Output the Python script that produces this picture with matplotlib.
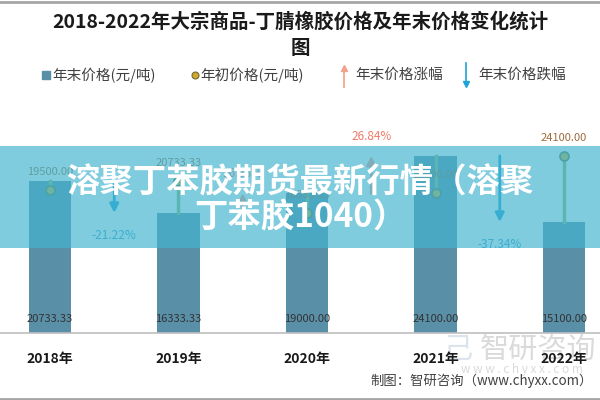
import matplotlib
matplotlib.use("Agg")
import matplotlib.pyplot as plt
from matplotlib.patches import Rectangle
from matplotlib.lines import Line2D

plt.rcParams['font.family'] = ['Noto Sans CJK SC', 'DejaVu Sans']

years = ["2018年", "2019年", "2020年", "2021年", "2022年"]
end_price = [20733.33, 16333.33, 19000.00, 24100.00, 15100.00]
start_price = [19500.00, 20733.33, 16333.33, 19000.00, 24100.00]
change_pct = ["-21.22%", "16.33%", "26.84%", "-37.34%"]

W, H = 600, 400
fig = plt.figure(figsize=(6, 4), dpi=100)
fig.patch.set_facecolor('white')

def px(x, y):
    return (x / W, 1 - y / H)

# axes: baseline at y=333px, ylim 0..30000 -> 220.5 px
ax = fig.add_axes([0, (H - 333) / H, 1, 220.5 / H])
ax.set_xlim(-0.389, 4.28)
ax.set_ylim(0, 30000)
for s in ['top', 'right', 'left']:
    ax.spines[s].set_visible(False)
ax.spines['bottom'].set_color('#BFBFBF')
ax.spines['bottom'].set_linewidth(1.2)
ax.set_yticks([])
ax.set_xticks(range(len(years)))
ax.set_xticklabels(years, fontsize=10, fontweight='bold', color='#1a1a1a')
ax.tick_params(axis='x', length=0, pad=14)
ax.patch.set_alpha(0)
ax.set_zorder(2)

bar_color = '#5A8FA8'
xs = list(range(len(years)))
ax.bar(xs, end_price, width=0.327, color=bar_color, zorder=2)

# bottom value labels (year-end)
for x, v in zip(xs, end_price):
    ax.annotate(f"{v:.2f}", xy=(x, 0), xytext=(0, 10), textcoords='offset points',
                ha='center', va='center', fontsize=8, color='#333333', zorder=5)

# year-start dots and connectors
line_c = '#8DB87A'
for x, s, e in zip(xs, start_price, end_price):
    ax.plot([x, x], [s, e], color=line_c, lw=2.5, zorder=3)
    ax.plot([x], [s], marker='o', ms=6.5, mfc='#C9B53C', mec='#5E7B5A', mew=1.2, zorder=4)
    ax.annotate(f"{s:.2f}", xy=(x, s), xytext=(0, 13), textcoords='offset points',
                ha='center', va='center', fontsize=8, color='#9C6B3E', zorder=5)

# change arrows
up_c = '#F4A08A'
down_c = '#1FA3D6'
for i, lab in enumerate(change_pct):
    prev, cur = end_price[i], end_price[i + 1]
    x = i + 0.5
    up = cur > prev
    c = up_c if up else down_c
    ax.annotate('', xy=(x, cur), xytext=(x, prev),
                arrowprops=dict(arrowstyle='-|>', color=c, lw=2, mutation_scale=13,
                                shrinkA=0, shrinkB=0), zorder=3)
    ax.annotate(lab, xy=(x, cur), xytext=(0, 14 if up else -16), textcoords='offset points',
                ha='center', va='center', fontsize=8.5,
                color='#EE7B66' if up else '#2A9FD0', zorder=5)

# title
fig.text(*px(300, 22), "2018-2022年大宗商品-丁腈橡胶价格及年末价格变化统计",
         ha='center', va='center', fontsize=14, fontweight='bold', color='#1a1a1a')
fig.text(*px(300, 48), "图", ha='center', va='center', fontsize=14,
         fontweight='bold', color='#1a1a1a')

# legend
ly = 75
fig.add_artist(Line2D([px(46, 0)[0]], [px(0, ly)[1]], marker='s', ms=5.5,
                      color=bar_color, ls='none'))
fig.text(*px(52, ly), "年末价格(元/吨)", ha='left', va='center', fontsize=10.5, color='#404040')
fig.add_artist(Line2D([px(195, 0)[0]], [px(0, ly)[1]], marker='o', ms=5,
                      mfc='#D4A82A', mec='#6B6B3A', mew=0.8, ls='none'))
fig.text(*px(200, ly), "年初价格(元/吨)", ha='left', va='center', fontsize=10.5, color='#404040')
fig.add_artist(Line2D([px(344, 0)[0]] * 2, [px(0, 87)[1], px(0, 68)[1]], color=up_c, lw=1.2))
fig.add_artist(Line2D([px(344, 0)[0]], [px(0, 68)[1]], marker='^', ms=5, color=up_c, ls='none'))
fig.text(*px(355, ly), "年末价格涨幅", ha='left', va='center', fontsize=10.5, color='#404040')
fig.add_artist(Line2D([px(466, 0)[0]] * 2, [px(0, 63)[1], px(0, 83)[1]], color=down_c, lw=1.2))
fig.add_artist(Line2D([px(466, 0)[0]], [px(0, 84)[1]], marker='v', ms=5, color=down_c, ls='none'))
fig.text(*px(478, ly), "年末价格跌幅", ha='left', va='center', fontsize=10.5, color='#404040')

# watermark (behind axes)
fig.text(*px(538, 350), "智研咨询", ha='center', va='center', fontsize=21,
         color='#DADADA', zorder=0)
fig.text(*px(522, 370), "w w w . c h y x x . c o m", ha='center', va='center', fontsize=8.5,
         color='#DADADA', zorder=0)
fig.text(*px(458, 350), "己", ha='center', va='center', fontsize=21,
         color='#DCE3EC', zorder=0)

# source
fig.text(*px(370, 381), "制图：智研咨询（www.chyxx.com）", ha='left', va='center',
         fontsize=9.6, color='#404040')

# borders
fig.add_artist(Line2D([0, 1], [1 - 1.5 / H] * 2, color='#A6A6A6', lw=2))
fig.add_artist(Line2D([0, 1], [1 - 398.5 / H] * 2, color='#A6A6A6', lw=2))

# banner overlay
fig.add_artist(Rectangle(px(0, 248), 1, 102 / H, transform=fig.transFigure,
                         facecolor=(67 / 255, 180 / 255, 207 / 255), alpha=0.68,
                         edgecolor='none', zorder=10))
fig.text(*px(300, 183), "溶聚丁苯胶期货最新行情（溶聚", ha='center', va='center',
         fontsize=24, fontweight='heavy', color='white', zorder=11)
fig.text(*px(300, 218), "丁苯胶1040）", ha='center', va='center',
         fontsize=24, fontweight='heavy', color='white', zorder=11)

fig.savefig("out.png", dpi=100, facecolor='white')
